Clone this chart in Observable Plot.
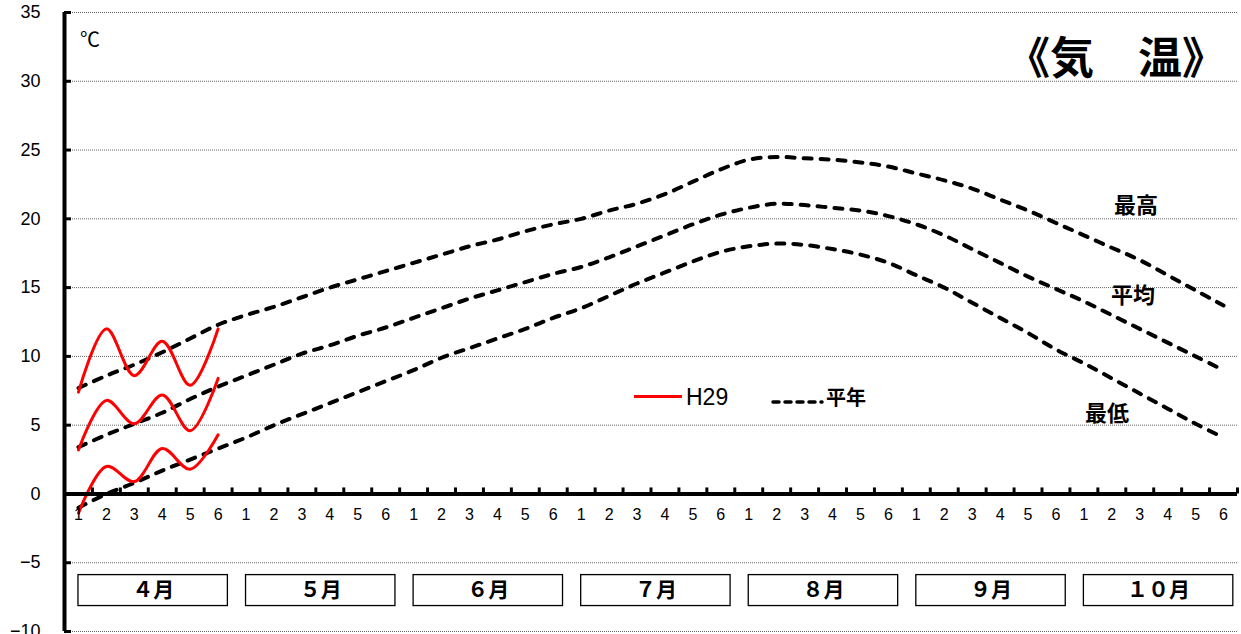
<!DOCTYPE html>
<html><head><meta charset="utf-8">
<script src="https://cdn.jsdelivr.net/npm/d3@7"></script>
<script src="https://cdn.jsdelivr.net/npm/@observablehq/plot@0.6"></script>
<style>
body{margin:0;background:#fff;}
#wrap{position:relative;width:1241px;height:634px;font-family:"Noto Sans CJK JP",sans-serif;overflow:hidden;}
.ann{position:absolute;white-space:nowrap;line-height:1;color:#000;}
</style></head><body>
<div id="wrap"></div>
<script>
// ---- data ----
const monthLabels = ["４月","５月","６月","７月","８月","９月","１０月"];
const dayLabels = ["1","2","3","4","5","6"];
const yTicks = [-10,-5,0,5,10,15,20,25,30,35];

// 平年 (normal) by half-decade: 7 months x 6
const normalMax = [7.7,8.6,9.4,10.3,11.3,12.3, 13.0,13.6,14.3,15.0,15.6,16.2, 16.8,17.4,18.0,18.5,19.1,19.6,
  20.0,20.6,21.1,21.8,22.7,23.6, 24.3,24.5,24.4,24.3,24.1,23.8, 23.3,22.8,22.2,21.4,20.6,19.7, 18.8,17.9,17.0,15.9,14.8,13.7];
const normalAvg = [3.4,4.3,5.1,5.9,6.9,7.8, 8.6,9.4,10.2,10.8,11.5,12.1, 12.8,13.5,14.2,14.8,15.4,16.0,
  16.5,17.2,18.0,18.8,19.6,20.3, 20.8,21.1,21.0,20.8,20.6,20.2, 19.6,18.8,17.8,16.8,15.8,14.9, 14.0,13.0,12.0,11.0,10.0,9.0];
const normalMin = [-1.0,0.0,0.8,1.7,2.5,3.3, 4.1,5.0,5.8,6.6,7.4,8.2, 9.0,9.9,10.6,11.3,12.0,12.8,
  13.5,14.4,15.3,16.1,16.9,17.6, 18.0,18.2,18.1,17.8,17.4,16.8, 15.9,15.0,13.9,12.8,11.7,10.5, 9.5,8.4,7.3,6.2,5.1,4.1];

// H29 (April only)
const h29Max = [7.4,12.0,8.6,11.1,7.9,12.0];
const h29Avg = [3.2,6.8,5.1,7.2,4.6,8.4];
const h29Min = [-1.4,2.0,0.9,3.3,1.8,4.3];

// ---- build tables ----
const N = monthLabels.length * dayLabels.length;
const idx = d3.range(N);
const normalRows = [];
[["max",normalMax],["avg",normalAvg],["min",normalMin]].forEach(([s,arr]) =>
  arr.forEach((v,i) => normalRows.push({s, i, v})));
const h29Rows = [];
[["max",h29Max],["avg",h29Avg],["min",h29Min]].forEach(([s,arr]) =>
  arr.forEach((v,i) => h29Rows.push({s, i, v})));
const monthRows = monthLabels.map((label,m) => ({label, x1: m*6, x2: m*6 + 5.35}));
const boundaries = d3.range(N).map(i => i + 0.5);
const boxTop = -5.9, boxBottom = -8.15;
const fmt = v => v < 0 ? "\u2212" + Math.abs(v) : String(v);

const chart = Plot.plot({
  width: 1241, height: 634,
  marginLeft: 64, marginRight: 4, marginTop: 12, marginBottom: 3,
  x: {domain: [-0.5, N - 0.5], axis: null},
  y: {domain: [-10, 35], axis: null},
  style: {fontFamily: "'Liberation Sans', Arial, sans-serif", background: "white", overflow: "visible"},
  marks: [
    Plot.ruleY(yTicks.filter(v => v !== 0), {stroke: "#666", strokeDasharray: "1,1", strokeWidth: 1}),
    Plot.rect(monthRows, {x1: "x1", x2: "x2", y1: boxTop, y2: boxBottom, fill: "white", stroke: "black", strokeWidth: 1.3}),
    Plot.text(monthRows, {x: d => (d.x1 + d.x2) / 2, y: (boxTop + boxBottom) / 2, text: "label",
      fontSize: 21, fontWeight: "bold", fontFamily: "'Noto Sans CJK JP', sans-serif"}),
    Plot.line(normalRows, {x: "i", y: "v", z: "s", stroke: "black", strokeWidth: 4,
      strokeDasharray: "8,9", strokeLinecap: "round", curve: "catmull-rom"}),
    Plot.line(h29Rows, {x: "i", y: "v", z: "s", stroke: "#ff0000", strokeWidth: 3, curve: "catmull-rom"}),
    Plot.ruleX([-0.5], {stroke: "black", strokeWidth: 4}),
    Plot.ruleY([0], {x1: -0.5, x2: N - 0.5, stroke: "black", strokeWidth: 4}),
    Plot.ruleY(yTicks, {x1: -0.5, x2: -0.5, insetRight: -7, stroke: "black", strokeWidth: 3}),
    Plot.ruleX(boundaries, {y1: 0, y2: 0, insetBottom: 6, stroke: "black", strokeWidth: 3}),
    Plot.text(idx, {x: d => d, y: 0, text: d => dayLabels[d % 6], dy: 21, fontSize: 16}),
    Plot.text(yTicks, {x: -0.5, y: d => d, text: d => fmt(d), textAnchor: "end", dx: -24, fontSize: 18})
  ]
});
const wrap = document.getElementById("wrap");
wrap.appendChild(chart);

function ann(html, css) {
  const d = document.createElement("div");
  d.className = "ann";
  d.innerHTML = html;
  Object.assign(d.style, css);
  wrap.appendChild(d);
  return d;
}
ann("《気　温》", {left: "1006px", top: "33px", fontSize: "44px", fontWeight: "bold"});
ann("℃", {left: "80px", top: "29px", fontSize: "20px"});
ann("最高", {left: "1114px", top: "192px", fontSize: "22px", fontWeight: "bold"});
ann("平均", {left: "1111px", top: "282px", fontSize: "22px", fontWeight: "bold"});
ann("最低", {left: "1085px", top: "400px", fontSize: "22px", fontWeight: "bold"});
// legend
ann("", {left: "634px", top: "395px", width: "48px", height: "3px", background: "#ff0000"});
ann("H29", {left: "686px", top: "386px", fontSize: "23px", fontFamily: "'Liberation Sans', Arial, sans-serif"});
ann('<svg width="56" height="10"><line x1="3" y1="5" x2="52" y2="5" stroke="black" stroke-width="3.5" stroke-dasharray="6,6" stroke-linecap="round"/></svg>',
  {left: "770px", top: "392px"});
ann("平年", {left: "826px", top: "387px", fontSize: "20px", fontWeight: "bold"});
</script>
</body></html>
